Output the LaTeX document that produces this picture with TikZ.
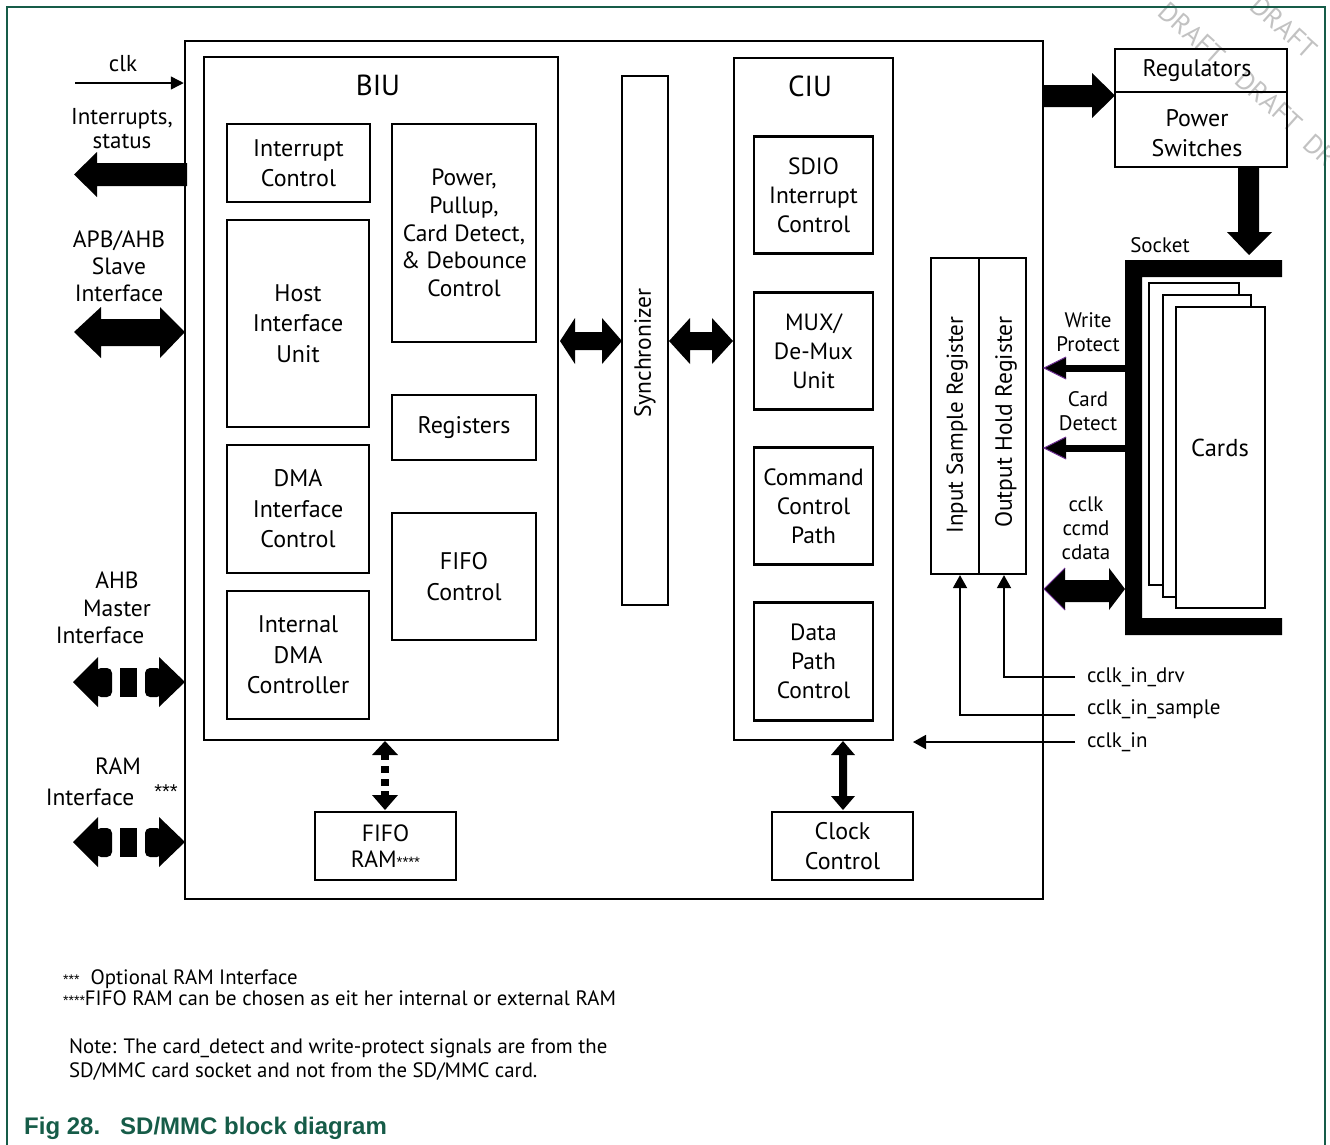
\documentclass[tikz,border=0pt]{standalone}
\usepackage{fontspec}
\setmainfont{PT Sans}
\newfontfamily\capfont{Liberation Sans}
\newfontfamily\starfont{Liberation Sans}
\usetikzlibrary{arrows.meta}
\definecolor{nxpgreen}{RGB}{22,92,72}
\definecolor{arrpurple}{RGB}{112,48,150}
\newcommand{\stars}[2]{{\starfont\fontsize{#1}{#1}\selectfont #2}}
\begin{document}
\begin{tikzpicture}[x=1pt,y=-1pt,
  blk/.style={draw, line width=2.2pt, align=center, inner sep=0pt, font=\fontsize{24}{30.5}\selectfont},
  lbl/.style={align=center, inner sep=0pt, font=\fontsize{23.5}{27}\selectfont},
  smalllbl/.style={align=center, inner sep=0pt, font=\fontsize{21}{24}\selectfont},
  sig/.style={anchor=west, inner sep=0pt, font=\fontsize{21}{24}\selectfont},
  bigarrow/.style={fill=black, draw=none},
  thinarrow/.style={line width=1.8pt, -{Triangle[length=13pt,width=14pt]}},
  wmark/.style={text=black!24, font=\fontsize{27}{27}\selectfont, rotate=-42, inner sep=0pt, anchor=west},
]
\useasboundingbox (0,0) rectangle (1330,1144);
% watermark
\begin{scope}
\clip (0,0) rectangle (1330,1144);
\node[wmark] (wm1) at (1163,7) {DRAFT};
\node[wmark] (wm2) at (1240,75) {DRAFT};
\node[wmark] (wm3) at (1308,139) {DR};
\node[wmark] (wm4) at (1255,1) {DRAFT};
\end{scope}
% frame
\draw[nxpgreen, line width=1.4pt] (7,1150) -- (7,7) -- (1325,7) -- (1325,1150);

% main and sub boxes
\node[blk, line width=2.5pt, minimum width=858, minimum height=858] (main) at (614,470) {};
\node[blk, minimum width=354, minimum height=683] (biu) at (381,398.5) {};
\node[font=\fontsize{29}{29}\selectfont] (biut) at (378,85) {BIU};
\node[blk, minimum width=143, minimum height=78] (ic) at (298.5,163) {Interrupt\\Control};
\node[blk, minimum width=144, minimum height=218, font=\fontsize{23.5}{27.7}\selectfont] (pwr) at (464,233) {Power,\\Pullup,\\Card Detect,\\\& Debounce\\Control};
\node[blk, minimum width=142, minimum height=207] (hiu) at (298,323.5) {Host\\Interface\\Unit};
\node[blk, minimum width=144, minimum height=65] (regs) at (464,427.5) {\raisebox{-4pt}{Registers}};
\node[blk, minimum width=142, minimum height=128] (dma) at (298,509) {DMA\\Interface\\Control};
\node[blk, minimum width=144, minimum height=127] (fifoc) at (464,576.5) {FIFO\\Control};
\node[blk, minimum width=142, minimum height=128] (idma) at (298,655) {Internal\\DMA\\Controller};

\node[blk, minimum width=46, minimum height=529] (sync) at (645,340.5) {};
\node[rotate=90, font=\fontsize{23.5}{23.5}\selectfont] (synct) at (645,353) {Synchronizer};

\node[blk, minimum width=159, minimum height=682] (ciu) at (813.5,399) {};
\node[font=\fontsize{29}{29}\selectfont] (ciut) at (810,86) {CIU};
\node[blk, minimum width=119, minimum height=117, font=\fontsize{23.5}{29}\selectfont] (sdio) at (813.5,195) {SDIO\\Interrupt\\Control};
\node[blk, minimum width=119, minimum height=117, font=\fontsize{23.5}{29}\selectfont] (mux) at (813.5,351) {MUX/\\De-Mux\\Unit};
\node[blk, minimum width=119, minimum height=117, font=\fontsize{23.5}{29}\selectfont] (cmd) at (813.5,506) {Command\\Control\\Path};
\node[blk, minimum width=119, minimum height=118, font=\fontsize{23.5}{29}\selectfont] (data) at (813.5,661.5) {Data\\Path\\Control};

\node[blk, minimum width=48, minimum height=316] (isr) at (955,416) {};
\node[blk, minimum width=47, minimum height=316] (ohr) at (1002.5,416) {};
\node[rotate=90, font=\fontsize{23}{23}\selectfont] (isrt) at (957,425) {Input Sample Register};
\node[rotate=90, font=\fontsize{23.5}{23.5}\selectfont] (ohrt) at (1006,422) {Output Hold Register};

\node[blk, minimum width=141, minimum height=68, font=\fontsize{23.5}{26}\selectfont] (fram) at (385.5,846) {FIFO\\RAM\stars{15}{****}};
\node[blk, minimum width=141, minimum height=68] (clkc) at (842.5,846) {Clock\\Control};

% regulators / power switches
\node[blk, minimum width=172, minimum height=118] (rp) at (1201,108) {};
\coordinate (divy) at (0,92);
\draw[line width=1.2pt] (rp.west |- divy) -- (rp.east |- divy);
\node[font=\fontsize{24}{24}\selectfont, inner sep=0pt] (regt) at (1197,71) {Regulators};
\node[align=center, inner sep=0pt, font=\fontsize{24}{30}\selectfont] (pswt) at (1197,133) {Power\\Switches};

% socket and cards
\fill[black] (1125,260) -- (1282,260) -- (1282,277) -- (1142,277) -- (1142,618) -- (1282,618) -- (1282,635) -- (1125,635) -- cycle;
\node[smalllbl] (sockt) at (1160,245) {Socket};
\draw[line width=2.5pt, fill=white] (1149,283) rectangle (1239,585);
\draw[line width=2.5pt, fill=white] (1163,295) rectangle (1251,597);
\draw[line width=2.5pt, fill=white] (1176,307) rectangle (1265,608);
\node[font=\fontsize{24.5}{24.5}\selectfont] (cards) at (1220,448) {Cards};

% big arrows
% interrupts, status
\fill[bigarrow] (187,163) -- (97,163) -- (97,152) -- (74,174.5) -- (97,197) -- (97,186) -- (187,186) -- cycle;
% APB/AHB slave
\fill[bigarrow] (74,332) -- (101,307) -- (101,319) -- (160,319) -- (160,307) -- (185,332) -- (160,358) -- (160,346) -- (101,346) -- (101,358) -- cycle;
% AHB master and RAM interface (dashed)
\foreach \yc in {682,842}{
  \fill[bigarrow] (73,\yc) -- (98,\yc-25) -- (98,\yc+25) -- cycle;
  \fill[bigarrow, rounded corners=5pt] (96,\yc-14) -- (112,\yc-14) -- (112,\yc+15) -- (96,\yc+15) -- cycle;
  \fill[bigarrow] (120,\yc-14) rectangle (137,\yc+15);
  \fill[bigarrow, rounded corners=5pt] (162,\yc-14) -- (145,\yc-14) -- (145,\yc+15) -- (162,\yc+15) -- cycle;
  \fill[bigarrow] (185,\yc) -- (159,\yc-25) -- (159,\yc+25) -- cycle;
}
% synchronizer arrows
\fill[bigarrow] (560,341) -- (575,318) -- (575,332) -- (602,332) -- (602,318) -- (622,341) -- (602,364) -- (602,350) -- (575,350) -- (575,364) -- cycle;
\fill[bigarrow] (669,341) -- (690,318) -- (690,332) -- (712,332) -- (712,318) -- (733,341) -- (712,364) -- (712,350) -- (690,350) -- (690,364) -- cycle;
% to regulators
\fill[bigarrow] (1043,85) -- (1092,85) -- (1092,73) -- (1115,95.5) -- (1092,118) -- (1092,107) -- (1043,107) -- cycle;
% down to socket
\fill[bigarrow] (1238,167) -- (1259,167) -- (1259,232) -- (1272,232) -- (1249,255) -- (1227,232) -- (1238,232) -- cycle;
% write protect, card detect
\foreach \yc in {368,448}{
  \fill[bigarrow] (1064,\yc-3.5) rectangle (1125,\yc+3.5);
  \fill[bigarrow] (1044,\yc) -- (1066,\yc-11) -- (1066,\yc+11) -- cycle;
  \draw[arrpurple, line width=1pt] (1066,\yc-11) -- (1044,\yc) -- (1066,\yc+11);
}
% cclk/ccmd/cdata
\fill[bigarrow] (1044,589) -- (1065,568) -- (1065,580) -- (1109,580) -- (1109,568) -- (1125,589) -- (1109,610) -- (1109,602) -- (1065,602) -- (1065,610) -- cycle;
\draw[arrpurple, line width=1pt] (1065,568) -- (1044,589) -- (1065,610);
% FIFO RAM dotted arrow
\fill[bigarrow] (385,741) -- (398,755) -- (372,755) -- cycle;
\fill[bigarrow] (381,754) rectangle (389,760);
\fill[bigarrow] (381,766) rectangle (389,773);
\fill[bigarrow] (381,779) rectangle (389,786);
\fill[bigarrow] (381,791) rectangle (389,796);
\fill[bigarrow] (372,795) -- (398,795) -- (385,810) -- cycle;
% clock control arrow
\fill[bigarrow] (843,741) -- (855,755) -- (847,755) -- (847,796) -- (855,796) -- (843,810) -- (831,796) -- (839,796) -- (839,755) -- (831,755) -- cycle;

% thin signals
\coordinate (clks) at (75,83);
\draw[line width=1.5pt, -{Triangle[length=13pt,width=13pt]}] (clks) -- (clks -| main.west);
\node[sig] (drv) at (1087,677) {cclk\_in\_drv};
\node[sig] (smp) at (1087,709) {cclk\_in\_sample};
\node[sig] (cin) at (1087,742) {cclk\_in};
\coordinate (drvs) at (1075,677);
\coordinate (smps) at (1075,715);
\coordinate (cins) at (1075,742);
\coordinate (cine) at (913,742);
\draw[thinarrow] (drvs) -| ([xshift=1.5pt]ohr.south);
\draw[thinarrow] (smps) -| ([xshift=5pt]isr.south);
\draw[thinarrow] (cins) -- (cine);

% left labels
\node[font=\fontsize{23}{23}\selectfont, inner sep=0pt] (clkt) at (123,64) {clk};
\node[lbl, font=\fontsize{23}{24}\selectfont] (intt) at (122,129) {Interrupts,\\status};
\node[lbl] (apbt) at (119,266) {APB/AHB\\Slave\\Interface};
\node[lbl, font=\fontsize{23.5}{28}\selectfont] (ahbt) at (117,594) {AHB\\Master};
\node[lbl] (ahbt2) at (100,635) {Interface};
\node[lbl] (ramt) at (118,766) {RAM};
\node[lbl] (ramt2) at (90,797) {Interface};
\node[inner sep=0pt] (stars) at (166,792) {\stars{20}{***}};

% right labels
\node[smalllbl] (wpt) at (1088,332) {Write\\Protect};
\node[smalllbl] (cdt) at (1088,411) {Card\\Detect};
\node[smalllbl] (cct) at (1086,528) {cclk\\ccmd\\cdata};

% notes
\node[anchor=base west, inner sep=0pt, font=\fontsize{20.8}{20.8}\selectfont] (n1) at (63,984) {\stars{14}{***}\ \ Optional RAM Interface};
\node[anchor=base west, inner sep=0pt, font=\fontsize{20.8}{20.8}\selectfont] (n2) at (63,1005) {\stars{14}{****}FIFO RAM can be chosen as eit her internal or external RAM};
\node[anchor=base west, inner sep=0pt, font=\fontsize{20.8}{20.8}\selectfont] (n3) at (69,1053) {Note: The card\_detect and write-protect signals are from the};
\node[anchor=base west, inner sep=0pt, font=\fontsize{20.8}{20.8}\selectfont] (n4) at (69,1077) {SD/MMC card socket and not from the SD/MMC card.};
\node[anchor=base west, inner sep=0pt, text=nxpgreen, font=\capfont\bfseries\fontsize{24}{24}\selectfont] (cap) at (24,1134) {Fig 28.\hspace{20pt}SD/MMC block diagram};
\end{tikzpicture}
\end{document}
